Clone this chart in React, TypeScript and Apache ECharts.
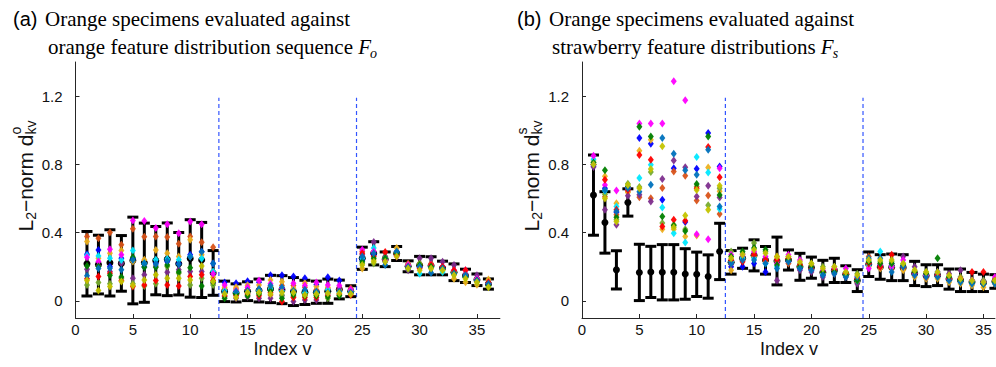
import React, { useEffect, useRef } from "react";
import * as echarts from "echarts";

// ---------- axis ticks ----------
const xTicks = [0, 5, 10, 15, 20, 25, 30, 35];
const yTicks = [0, 0.4, 0.8, 1.2];
const dividers = [12.5, 24.5];
const dividerTopA = [1.19, 1.19];
const dividerTopB = [1.19, 1.19];

// ---------- panel (a): orange vs orange ----------
const aMean = [0.218, 0.213, 0.223, 0.22, 0.237, 0.224, 0.236, 0.244, 0.218, 0.249, 0.24, 0.164, 0.056, 0.047, 0.057, 0.061, 0.07, 0.066, 0.055, 0.05, 0.051, 0.057, 0.067, 0.057, 0.25, 0.279, 0.244, 0.278, 0.203, 0.207, 0.206, 0.193, 0.168, 0.147, 0.124, 0.099];
const aSd = [0.189, 0.172, 0.194, 0.163, 0.254, 0.232, 0.2, 0.213, 0.183, 0.227, 0.22, 0.131, 0.06, 0.053, 0.055, 0.067, 0.08, 0.082, 0.082, 0.071, 0.065, 0.071, 0.055, 0.032, 0.065, 0.068, 0.043, 0.041, 0.032, 0.054, 0.053, 0.04, 0.049, 0.039, 0.034, 0.03];

const aBlue = [0.274, 0.299, 0.2, 0.25, 0.25, 0.2, 0.22, 0.23, 0.22, 0.27, 0.288, 0.22, 0.108, 0.104, 0.115, 0.11, 0.151, 0.151, 0.143, 0.133, 0.095, 0.139, 0.119, 0.07, 0.24, 0.27, 0.23, 0.29, 0.2, 0.2, 0.2, 0.19, 0.16, 0.14, 0.12, 0.1];
const aOrange = [0.378, 0.368, 0.401, 0.329, 0.423, 0.376, 0.378, 0.374, 0.335, 0.378, 0.344, 0.315, 0.07, 0.07, 0.065, 0.065, 0.035, 0.09, 0.09, 0.08, 0.065, 0.075, 0.08, 0.074, 0.29, 0.29, 0.25, 0.28, 0.22, 0.22, 0.22, 0.2, 0.17, 0.15, 0.13, 0.1];
const aYellow = [0.348, 0.25, 0.28, 0.295, 0.231, 0.241, 0.299, 0.28, 0.26, 0.358, 0.27, 0.139, 0.08, 0.08, 0.092, 0.094, 0.123, 0.113, 0.074, 0.104, 0.084, 0.08, 0.065, 0.06, 0.19, 0.24, 0.26, 0.31, 0.21, 0.21, 0.21, 0.18, 0.13, 0.11, 0.095, 0.125];
const aPurple = [0.186, 0.205, 0.172, 0.221, 0.133, 0.153, 0.205, 0.168, 0.182, 0.172, 0.172, 0.104, 0.025, 0.016, 0.025, 0.016, 0.016, 0.03, -0.004, 0.006, 0.006, 0.035, 0.074, 0.05, 0.27, 0.345, 0.26, 0.27, 0.18, 0.25, 0.25, 0.23, 0.21, 0.16, 0.15, 0.1];
const aGreen = [0.094, 0.108, 0.1, 0.133, 0.1, 0.088, 0.1, 0.202, 0.162, 0.094, 0.133, 0.094, 0.045, 0.035, 0.035, 0.045, 0.084, 0.035, 0.025, 0.045, 0.035, 0.016, 0.035, 0.061, 0.22, 0.22, 0.24, 0.27, 0.2, 0.22, 0.19, 0.19, 0.17, 0.14, 0.11, 0.085];
const aCyan = [0.266, 0.264, 0.25, 0.24, 0.295, 0.22, 0.241, 0.245, 0.241, 0.26, 0.248, 0.172, 0.06, 0.05, 0.05, 0.06, 0.07, 0.06, 0.045, 0.05, 0.05, 0.065, 0.05, 0.055, 0.25, 0.31, 0.25, 0.28, 0.19, 0.16, 0.2, 0.17, 0.16, 0.14, 0.12, 0.1];
const aMagenta = [0.256, 0.231, 0.303, 0.27, 0.471, 0.468, 0.427, 0.45, 0.397, 0.466, 0.45, 0.16, 0.094, 0.06, 0.08, 0.12, 0.1, 0.074, 0.104, 0.09, 0.108, 0.094, 0.09, 0.065, 0.3, 0.29, 0.24, 0.26, 0.21, 0.2, 0.21, 0.2, 0.18, 0.18, 0.13, 0.1];
const aRed = [0.13, 0.143, 0.162, 0.12, 0.084, 0.094, 0.119, 0.094, 0.088, 0.143, 0.153, 0.12, 0.03, 0.03, 0.04, 0.03, 0.049, -0.004, 0.02, 0.02, 0.02, 0.03, 0.04, 0.035, 0.28, 0.26, 0.286, 0.27, 0.2, 0.19, 0.21, 0.2, 0.18, 0.18, 0.12, 0.11];
const aDkGreen = [0.205, 0.202, 0.15, 0.14, 0.256, 0.198, 0.198, 0.21, 0.17, 0.194, 0.088, 0.11, 0.016, 0.04, 0.03, 0.04, 0.06, 0.016, 0.035, 0.03, 0.03, 0.025, 0.03, 0.045, 0.23, 0.25, 0.25, 0.28, 0.19, 0.21, 0.2, 0.19, 0.16, 0.14, 0.12, 0.09];
const aDkBlue = [0.147, 0.19, 0.192, 0.182, 0.24, 0.221, 0.217, 0.235, 0.215, 0.26, 0.288, 0.219, 0.05, 0.055, 0.06, 0.07, 0.09, 0.08, 0.06, 0.065, 0.055, 0.05, 0.055, 0.05, 0.26, 0.28, 0.21, 0.29, 0.2, 0.2, 0.165, 0.19, 0.16, 0.15, 0.12, 0.1];
const aOlive = [0.119, 0.061, 0.084, 0.114, 0.09, 0.123, 0.153, 0.133, 0.133, 0.123, 0.205, 0.114, 0.04, 0.02, 0.05, 0.05, 0.04, 0.05, 0.05, 0.035, 0.04, 0.045, 0.045, 0.04, 0.21, 0.23, 0.23, 0.26, 0.19, 0.18, 0.19, 0.18, 0.15, 0.13, 0.11, 0.08];

// ---------- panel (b): orange vs strawberry ----------
const bMean = [0.62, 0.46, 0.182, 0.577, 0.167, 0.17, 0.168, 0.168, 0.158, 0.156, 0.143, 0.29, 0.226, 0.25, 0.267, 0.238, 0.234, 0.24, 0.2, 0.195, 0.166, 0.179, 0.157, 0.119, 0.215, 0.199, 0.197, 0.195, 0.161, 0.148, 0.151, 0.128, 0.121, 0.111, 0.106, 0.114];
const bSd = [0.235, 0.18, 0.112, 0.08, 0.165, 0.15, 0.162, 0.162, 0.148, 0.13, 0.127, 0.165, 0.069, 0.059, 0.091, 0.081, 0.14, 0.059, 0.079, 0.062, 0.072, 0.071, 0.049, 0.064, 0.072, 0.072, 0.078, 0.076, 0.071, 0.064, 0.061, 0.059, 0.066, 0.056, 0.051, 0.04];

const bBlue = [0.79, 0.66, 0.52, 0.655, 0.955, 0.921, 0.593, 0.778, 0.462, 0.775, 0.984, 0.788, 0.2, 0.2, 0.22, 0.17, 0.24, 0.23, 0.19, 0.18, 0.15, 0.17, 0.15, 0.12, 0.21, 0.21, 0.22, 0.2, 0.16, 0.15, 0.17, 0.13, 0.12, 0.11, 0.1, 0.11];
const bOrange = [0.8, 0.61, 0.505, 0.64, 0.608, 0.602, 0.661, 0.759, 0.733, 0.589, 0.618, 0.51, 0.22, 0.24, 0.27, 0.23, 0.26, 0.22, 0.21, 0.2, 0.17, 0.18, 0.16, 0.13, 0.26, 0.22, 0.19, 0.19, 0.16, 0.15, 0.15, 0.13, 0.12, 0.11, 0.11, 0.12];
const bYellow = [0.82, 0.73, 0.573, 0.636, 0.88, 0.945, 0.42, 0.42, 0.377, 0.383, 0.782, 0.642, 0.18, 0.25, 0.26, 0.24, 0.25, 0.25, 0.2, 0.21, 0.16, 0.19, 0.16, 0.11, 0.2, 0.19, 0.2, 0.18, 0.14, 0.13, 0.13, 0.11, 0.1, 0.09, 0.08, 0.1];
const bPurple = [0.785, 0.535, 0.446, 0.616, 0.622, 0.583, 0.714, 0.823, 0.784, 0.612, 0.675, 0.606, 0.215, 0.26, 0.28, 0.25, 0.12, 0.24, 0.18, 0.17, 0.14, 0.16, 0.14, 0.1, 0.22, 0.2, 0.21, 0.26, 0.2, 0.16, 0.16, 0.16, 0.18, 0.12, 0.12, 0.13];
const bGreen = [0.81, 0.625, 0.475, 0.687, 0.667, 0.755, 0.456, 0.446, 0.42, 0.67, 0.56, 0.66, 0.29, 0.28, 0.34, 0.29, 0.23, 0.26, 0.22, 0.22, 0.2, 0.2, 0.17, 0.16, 0.24, 0.23, 0.23, 0.22, 0.18, 0.17, 0.16, 0.14, 0.14, 0.12, 0.12, 0.13];
const bCyan = [0.83, 0.645, 0.554, 0.66, 0.72, 0.798, 0.548, 0.397, 0.342, 0.843, 0.753, 0.538, 0.23, 0.25, 0.25, 0.22, 0.2, 0.24, 0.2, 0.19, 0.16, 0.18, 0.15, 0.12, 0.21, 0.29, 0.2, 0.2, 0.17, 0.15, 0.15, 0.13, 0.12, 0.11, 0.11, 0.11];
const bMagenta = [0.85, 0.68, 0.647, 0.665, 1.04, 1.039, 1.039, 1.287, 1.176, 0.391, 0.362, 0.778, 0.27, 0.27, 0.29, 0.26, 0.22, 0.27, 0.24, 0.2, 0.18, 0.19, 0.19, 0.14, 0.19, 0.21, 0.2, 0.24, 0.16, 0.15, 0.15, 0.13, 0.13, 0.12, 0.11, 0.14];
const bRed = [0.8, 0.71, 0.534, 0.65, 0.855, 0.827, 0.436, 0.475, 0.47, 0.66, 0.902, 0.724, 0.24, 0.23, 0.27, 0.24, 0.24, 0.25, 0.21, 0.19, 0.17, 0.18, 0.16, 0.13, 0.22, 0.2, 0.27, 0.2, 0.17, 0.14, 0.15, 0.13, 0.13, 0.17, 0.17, 0.12];
const bDkGreen = [0.81, 0.765, 0.49, 0.67, 1.02, 0.964, 0.495, 0.44, 0.41, 0.685, 0.964, 0.62, 0.26, 0.29, 0.31, 0.3, 0.21, 0.24, 0.2, 0.2, 0.17, 0.17, 0.15, 0.12, 0.23, 0.22, 0.22, 0.21, 0.17, 0.16, 0.25, 0.14, 0.12, 0.11, 0.1, 0.11];
const bDkBlue = [0.8, 0.65, 0.525, 0.66, 0.64, 0.681, 0.955, 0.863, 0.765, 0.74, 0.886, 0.554, 0.22, 0.24, 0.24, 0.22, 0.19, 0.23, 0.19, 0.18, 0.15, 0.16, 0.14, 0.14, 0.25, 0.25, 0.17, 0.2, 0.15, 0.14, 0.14, 0.12, 0.11, 0.1, 0.1, 0.1];
const bOlive = [0.8, 0.6, 0.465, 0.68, 0.66, 0.773, 0.906, 0.43, 0.5, 0.65, 0.534, 0.675, 0.25, 0.27, 0.3, 0.28, 0.26, 0.26, 0.23, 0.22, 0.19, 0.2, 0.17, 0.15, 0.24, 0.24, 0.24, 0.22, 0.18, 0.17, 0.17, 0.15, 0.13, 0.12, 0.11, 0.12];

const specimenColors = ["#0000ff", "#d95319", "#edb120", "#7e2f8e", "#77ac30", "#00e8ff", "#ff00ff", "#ff0000", "#008000", "#0072bd", "#c4c400"];
const aSpecimens = [aBlue, aOrange, aYellow, aPurple, aGreen, aCyan, aMagenta, aRed, aDkGreen, aDkBlue, aOlive];
const bSpecimens = [bBlue, bOrange, bYellow, bPurple, bGreen, bCyan, bMagenta, bRed, bDkGreen, bDkBlue, bOlive];

const AXIS_COLOR = "#262626";
const SANS = "Liberation Sans";
const SERIF = "Liberation Serif";
const UNIT = 11.47; // px per index unit on both panels

let measureCtx: CanvasRenderingContext2D | null = null;
function tw(text: string, size: number, family: string, style = "normal") {
  if (!measureCtx) measureCtx = document.createElement("canvas").getContext("2d");
  measureCtx!.font = `${style} ${size}px "${family}"`;
  return measureCtx!.measureText(text).width;
}

function errorSeries(mean: number[], sd: number[], idx: number) {
  return {
    type: "custom",
    xAxisIndex: idx,
    yAxisIndex: idx,
    z: 3,
    silent: true,
    clip: false,
    encode: { x: 0, y: 1 },
    data: mean.map((m, k) => [k + 1, m, sd[k]]),
    renderItem: (_p: any, api: any) => {
      const x = api.value(0);
      const m = api.value(1);
      const s = api.value(2);
      const top = api.coord([x, m + s]);
      const bot = api.coord([x, m - s]);
      const mid = api.coord([x, m]);
      const hw = 5.5;
      const st = { stroke: "#000", lineWidth: 3 };
      return {
        type: "group",
        children: [
          { type: "line", shape: { x1: top[0], y1: top[1], x2: bot[0], y2: bot[1] }, style: st },
          { type: "line", shape: { x1: top[0] - hw, y1: top[1], x2: top[0] + hw, y2: top[1] }, style: st },
          { type: "line", shape: { x1: bot[0] - hw, y1: bot[1], x2: bot[0] + hw, y2: bot[1] }, style: st },
          { type: "circle", shape: { cx: mid[0], cy: mid[1], r: 3.5 }, style: { fill: "#000" } },
        ],
      };
    },
  };
}

function scatterSeries(specs: number[][], idx: number) {
  return specs.map((arr, s) => ({
    type: "scatter",
    xAxisIndex: idx,
    yAxisIndex: idx,
    z: 4,
    silent: true,
    symbol: "diamond",
    symbolSize: [6, 8],
    itemStyle: { color: specimenColors[s], opacity: 0.95 },
    data: arr.map((v, k) => [k + 1, v]),
  }));
}

function dividerSeries(tops: number[], idx: number) {
  return dividers.map((d, i) => ({
    type: "line",
    xAxisIndex: idx,
    yAxisIndex: idx,
    z: 2,
    silent: true,
    symbol: "none",
    lineStyle: { color: "#3355ff", width: 1.2, type: [4, 3] },
    data: [
      [d, -0.1],
      [d, tops[i]],
    ],
  }));
}

function xAxisCfg(idx: number, max: number) {
  return {
    gridIndex: idx,
    type: "value",
    min: 0,
    max,
    axisLine: { show: true, onZero: false, lineStyle: { color: AXIS_COLOR, width: 1 } },
    axisTick: { show: true, inside: true, length: 4, customValues: xTicks, lineStyle: { color: AXIS_COLOR } },
    axisLabel: { customValues: xTicks, color: "#111", fontSize: 15, fontFamily: SANS, margin: 4 },
    splitLine: { show: false },
  };
}

function yAxisCfg(idx: number) {
  return {
    gridIndex: idx,
    type: "value",
    min: -0.1,
    max: 1.4,
    axisLine: { show: true, onZero: false, lineStyle: { color: AXIS_COLOR, width: 1 } },
    axisTick: { show: true, inside: true, length: 4, customValues: yTicks, lineStyle: { color: AXIS_COLOR } },
    axisLabel: {
      customValues: yTicks,
      color: "#111",
      fontSize: 15,
      fontFamily: SANS,
      margin: 13,
      formatter: (v: number) => (v === 0 ? "0" : v.toFixed(1)),
    },
    splitLine: { show: false },
  };
}

function yLabel(cx: number, cy: number, sup: string) {
  const F = 21;
  const S = 14;
  const wL = tw("L", F, SANS);
  const w2 = tw("2", S, SANS);
  const mid = "\u2212norm d";
  const wMid = tw(mid, F, SANS);
  const wSup = Math.max(tw(sup, S, SANS), tw("kv", S, SANS));
  const total = wL + w2 + wMid + wSup;
  const base = { fontFamily: SANS, fill: "#111", verticalAlign: "middle", align: "left" };
  return {
    type: "group",
    x: cx,
    y: cy + total / 2,
    rotation: Math.PI / 2,
    children: [
      { type: "text", x: 0, y: 0, style: { ...base, text: "L", fontSize: F } },
      { type: "text", x: wL, y: 6, style: { ...base, text: "2", fontSize: S } },
      { type: "text", x: wL + w2, y: 0, style: { ...base, text: mid, fontSize: F } },
      { type: "text", x: wL + w2 + wMid, y: -9, style: { ...base, text: sup, fontSize: S } },
      { type: "text", x: wL + w2 + wMid, y: 6, style: { ...base, text: "kv", fontSize: S } },
    ],
  };
}

function title(x: number, tag: string, line1: string, line2: string, sub: string) {
  const T = 21;
  const wLine2 = tw(line2, T, SERIF);
  const wF = tw("F", T, SERIF, "italic");
  const serif = { fontFamily: SERIF, fill: "#000", verticalAlign: "middle", align: "left", fontSize: T };
  return [
    { type: "text", x: x, y: 19, style: { text: tag, fontFamily: SANS, fontSize: 20, fill: "#000", verticalAlign: "middle" } },
    { type: "text", x: x + 32, y: 19, style: { ...serif, text: line1 } },
    { type: "text", x: x + 35, y: 47, style: { ...serif, text: line2 } },
    { type: "text", x: x + 35 + wLine2, y: 47, style: { ...serif, text: "F", fontStyle: "italic" } },
    { type: "text", x: x + 35 + wLine2 + wF - 1, y: 53, style: { ...serif, text: sub, fontStyle: "italic", fontSize: 14 } },
  ];
}

export default function App() {
  const ref = useRef<HTMLDivElement>(null);
  useEffect(() => {
    if (!ref.current) return;
    const chart = echarts.init(ref.current, undefined, { renderer: "svg" });
    const option: any = {
      animation: false,
      backgroundColor: "#fff",
      grid: [
        { left: 75.5, top: 62, width: 37 * UNIT, height: 256 },
        { left: 582, top: 62, width: 36 * UNIT, height: 256 },
      ],
      xAxis: [xAxisCfg(0, 37), xAxisCfg(1, 36)],
      yAxis: [yAxisCfg(0), yAxisCfg(1)],
      series: [
        ...dividerSeries(dividerTopA, 0),
        ...dividerSeries(dividerTopB, 1),
        errorSeries(aMean, aSd, 0),
        errorSeries(bMean, bSd, 1),
        ...scatterSeries(aSpecimens, 0),
        ...scatterSeries(bSpecimens, 1),
      ],
      graphic: [
        ...title(13, "(a)", "Orange specimens evaluated against", "orange feature distribution sequence ", "o"),
        ...title(517, "(b)", "Orange specimens evaluated against", "strawberry feature distributions ", "s"),
        yLabel(25, 176, "o"),
        yLabel(531, 176, "s"),
        { type: "text", x: 282.5, y: 349, style: { text: "Index v", fontFamily: SANS, fontSize: 18, fill: "#111", align: "center", verticalAlign: "middle" } },
        { type: "text", x: 789, y: 349, style: { text: "Index v", fontFamily: SANS, fontSize: 18, fill: "#111", align: "center", verticalAlign: "middle" } },
      ],
    };
    chart.setOption(option);
    return () => chart.dispose();
  }, []);
  return <div ref={ref} style={{ position: "absolute", left: 0, top: 0, width: 996, height: 367 }} />;
}
